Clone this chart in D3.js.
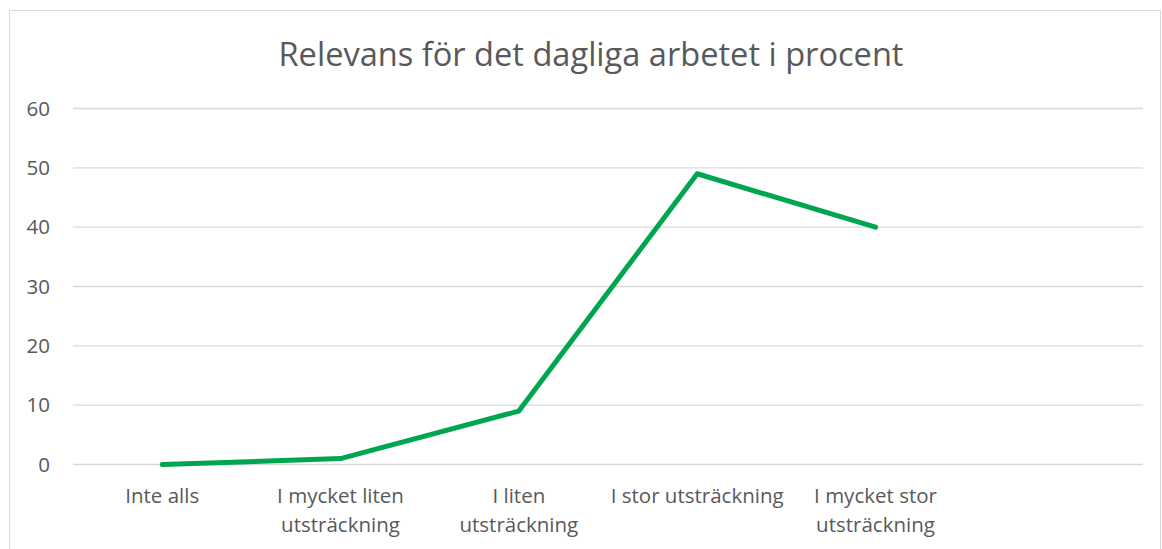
<!DOCTYPE html>
<html><head><meta charset="utf-8">
<script src="https://cdn.jsdelivr.net/npm/d3@7"></script>
<style>body{margin:0;background:#fff}svg{display:block}</style>
</head><body>
<svg id="c" width="1162" height="549"></svg>
<script>
const title = "Relevans för det dagliga arbetet i procent";
const categories = ["Inte alls", "I mycket liten utsträckning", "I liten utsträckning", "I stor utsträckning", "I mycket stor utsträckning", ""];
const tickLabels = [["Inte alls"], ["I mycket liten", "utsträckning"], ["I liten", "utsträckning"], ["I stor utsträckning"], ["I mycket stor", "utsträckning"], []];
const values = [0, 1, 9, 49, 40];
const yTicks = [0, 10, 20, 30, 40, 50, 60];

const svg = d3.select("#c");
const font = "Open Sans, sans-serif";
svg.append("rect").attr("x", 9.5).attr("y", 10.5).attr("width", 1151).attr("height", 560)
  .attr("fill", "#fff").attr("stroke", "#d9d9d9");

svg.append("text").attr("x", 591).attr("y", 66).attr("text-anchor", "middle")
  .attr("font-family", font).attr("font-size", 32.6).attr("fill", "#595959").text(title);

const x = d3.scaleBand().domain(categories.map((d, i) => i)).range([73, 1143]);
const y = d3.scaleLinear().domain([0, 60]).range([464.5, 108.5]);

const grid = svg.append("g");
grid.selectAll("line").data(yTicks).join("line")
  .attr("x1", 73).attr("x2", 1143).attr("y1", d => y(d)).attr("y2", d => y(d))
  .attr("stroke", "#d9d9d9").attr("stroke-width", 1.3);

const yAxis = svg.append("g").attr("transform", "translate(50,0)")
  .call(d3.axisLeft(y).tickValues(yTicks).tickSize(0).tickPadding(0));
yAxis.select(".domain").remove();
yAxis.selectAll("text").attr("font-family", font).attr("font-size", 20.5).attr("fill", "#595959");

const xAxis = svg.append("g").attr("transform", "translate(0,464.5)")
  .call(d3.axisBottom(x).tickSize(0).tickFormat(() => ""));
xAxis.select(".domain").remove();
xAxis.selectAll(".tick").each(function(i) {
  const t = d3.select(this).append("text").attr("y", 38.5).attr("text-anchor", "middle")
    .attr("font-family", font).attr("font-size", 20.5).attr("fill", "#595959");
  tickLabels[i].forEach((l, k) => t.append("tspan").attr("x", 0).attr("dy", k ? 28.5 : 0).text(l));
});

const line = d3.line().x((d, i) => x(i) + x.bandwidth() / 2).y(d => y(d));
svg.append("path").datum(values).attr("d", line).attr("fill", "none")
  .attr("stroke", "#00A550").attr("stroke-width", 5).attr("stroke-linecap", "round").attr("stroke-linejoin", "round");
</script>
</body></html>
